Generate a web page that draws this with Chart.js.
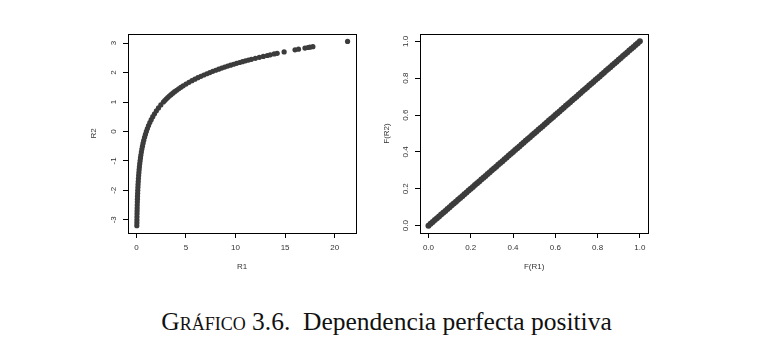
<!DOCTYPE html>
<html>
<head>
<meta charset="utf-8">
<script src="https://cdn.jsdelivr.net/npm/chart.js@4.4.1/dist/chart.umd.min.js"></script>
<style>
  body { margin: 0; background: #fff; width: 773px; height: 349px; position: relative; overflow: hidden; }
  #left { position: absolute; left: 0; top: 0; }
  #right { position: absolute; left: 380px; top: 0; }
  #caption { position: absolute; left: 0; width: 773px; top: 307px; text-align: center;
             font-family: "Liberation Serif", "DejaVu Serif", serif; font-size: 25.5px; line-height: 1.15; color: #111; white-space: pre; }
  .sc { font-variant: small-caps; }
</style>
</head>
<body>
<canvas id="left" width="380" height="290"></canvas>
<canvas id="right" width="393" height="290"></canvas>
<div id="caption"><span class="sc">Gráfico</span> 3.6.  Dependencia perfecta positiva</div>
<script>
// left panel: R1 against R2
const r1 = [0.041,0.045,0.050,0.055,0.061,0.067,0.074,0.082,0.091,0.100,0.111,0.122,0.135,0.150,0.165,0.183,
  0.202,0.223,0.247,0.273,0.301,0.333,0.368,0.407,0.449,0.497,0.549,0.607,0.670,0.741,0.819,0.905,1.000,
  1.105,1.221,1.350,1.492,1.649,1.822,2.014,2.226,2.460,2.718,
  2.858,3.004,3.158,3.320,3.490,3.669,3.857,4.055,4.263,4.482,4.711,
  5.0,5.3,5.6,5.9,6.2,6.5,6.8,7.1,7.4,7.7,8.0,8.3,8.6,8.9,9.2,9.5,9.8,10.1,10.4,10.7,11.0,11.3,11.6,
  12.0,12.4,12.8,13.2,13.5,13.9,14.2,14.9,16.0,16.35,17.0,17.3,17.5,17.8,21.3];
const r2 = [-3.2,-3.1,-3.0,-2.9,-2.8,-2.7,-2.6,-2.5,-2.4,-2.3,-2.2,-2.1,-2.0,-1.9,-1.8,-1.7,
  -1.6,-1.5,-1.4,-1.3,-1.2,-1.1,-1.0,-0.9,-0.8,-0.7,-0.6,-0.5,-0.4,-0.3,-0.2,-0.1,0.0,
  0.1,0.2,0.3,0.4,0.5,0.6,0.7,0.8,0.9,1.0,
  1.05,1.1,1.15,1.2,1.25,1.3,1.35,1.4,1.45,1.5,1.55,
  1.609,1.668,1.723,1.775,1.825,1.872,1.917,1.960,2.001,2.041,2.079,2.116,2.152,2.186,2.219,2.251,2.282,2.313,2.342,2.370,2.398,2.425,2.451,
  2.485,2.518,2.549,2.580,2.603,2.632,2.653,2.701,2.773,2.794,2.833,2.851,2.862,2.879,3.059];

// right panel: F(R1) against F(R2)
const fR1 = [0.00,0.01,0.02,0.03,0.04,0.05,0.06,0.07,0.08,0.09,0.10,0.11,0.12,0.13,0.14,0.15,0.16,0.17,0.18,0.19,
  0.20,0.21,0.22,0.23,0.24,0.25,0.26,0.27,0.28,0.29,0.30,0.31,0.32,0.33,0.34,0.35,0.36,0.37,0.38,0.39,
  0.40,0.41,0.42,0.43,0.44,0.45,0.46,0.47,0.48,0.49,0.50,0.51,0.52,0.53,0.54,0.55,0.56,0.57,0.58,0.59,
  0.60,0.61,0.62,0.63,0.64,0.65,0.66,0.67,0.68,0.69,0.70,0.71,0.72,0.73,0.74,0.75,0.76,0.77,0.78,0.79,
  0.80,0.81,0.82,0.83,0.84,0.85,0.86,0.87,0.88,0.89,0.90,0.91,0.92,0.93,0.94,0.95,0.96,0.97,0.98,0.99,1.00];
const fR2 = [0.00,0.01,0.02,0.03,0.04,0.05,0.06,0.07,0.08,0.09,0.10,0.11,0.12,0.13,0.14,0.15,0.16,0.17,0.18,0.19,
  0.20,0.21,0.22,0.23,0.24,0.25,0.26,0.27,0.28,0.29,0.30,0.31,0.32,0.33,0.34,0.35,0.36,0.37,0.38,0.39,
  0.40,0.41,0.42,0.43,0.44,0.45,0.46,0.47,0.48,0.49,0.50,0.51,0.52,0.53,0.54,0.55,0.56,0.57,0.58,0.59,
  0.60,0.61,0.62,0.63,0.64,0.65,0.66,0.67,0.68,0.69,0.70,0.71,0.72,0.73,0.74,0.75,0.76,0.77,0.78,0.79,
  0.80,0.81,0.82,0.83,0.84,0.85,0.86,0.87,0.88,0.89,0.90,0.91,0.92,0.93,0.94,0.95,0.96,0.97,0.98,0.99,1.00];

const r1Ticks = [0, 5, 10, 15, 20];
const r2Ticks = [-3, -2, -1, 0, 1, 2, 3];
const fTicks = [0, 0.2, 0.4, 0.6, 0.8, 1.0];

const tickFont = { family: '"Liberation Sans", Arial, sans-serif', size: 8 };
const inkColor = '#333';
const dotColor = '#3c3c3c';

// box around the plot and R-style rotated y tick labels
const rBox = {
  id: 'rBox',
  afterDraw(chart) {
    const { ctx, chartArea: a } = chart;
    const y = chart.scales.y;
    ctx.save();
    ctx.strokeStyle = '#000';
    ctx.lineWidth = 1;
    ctx.strokeRect(Math.round(a.left) + 0.5, Math.round(a.top) + 0.5,
                   Math.round(a.right - a.left), Math.round(a.bottom - a.top));
    ctx.fillStyle = inkColor;
    ctx.font = '8px "Liberation Sans", Arial, sans-serif';
    ctx.textAlign = 'center';
    ctx.textBaseline = 'middle';
    y.ticks.forEach(t => {
      ctx.save();
      ctx.translate(a.left - 14.5, y.getPixelForValue(t.value));
      ctx.rotate(-Math.PI / 2);
      ctx.fillText(t.label, 0, 0);
      ctx.restore();
    });
    ctx.restore();
  }
};

function makePlot(id, xs, ys, o) {
  const grid = { drawOnChartArea: false, drawTicks: true, tickLength: 5, color: '#000', lineWidth: 1 };
  return new Chart(document.getElementById(id), {
    type: 'scatter',
    data: {
      datasets: [{
        data: xs.map((x, i) => ({ x: x, y: ys[i] })),
        backgroundColor: dotColor,
        borderWidth: 0,
        pointRadius: o.radius,
        pointHoverRadius: o.radius
      }]
    },
    options: {
      responsive: false,
      animation: false,
      events: [],
      layout: { padding: { top: 34, right: o.padRight, left: 0, bottom: 0 } },
      plugins: { legend: { display: false }, tooltip: { enabled: false } },
      scales: {
        x: {
          type: 'linear', min: o.xMin, max: o.xMax,
          afterBuildTicks: s => { s.ticks = o.xTicks.map(v => ({ value: v })); },
          ticks: { font: tickFont, color: inkColor, padding: 5, maxRotation: 0, callback: o.fmt },
          grid: grid,
          border: { display: false },
          title: { display: true, text: o.xTitle, font: tickFont, color: inkColor, padding: { top: 0, bottom: 18.5 } },
          afterFit: s => { s.height = 57; }
        },
        y: {
          type: 'linear', min: o.yMin, max: o.yMax,
          afterBuildTicks: s => { s.ticks = o.yTicks.map(v => ({ value: v })); },
          ticks: { display: false, callback: o.fmt },
          grid: grid,
          border: { display: false },
          title: { display: true, text: o.yTitle, font: tickFont, color: inkColor, padding: { top: o.yTitlePad, bottom: 0 } },
          afterFit: s => { s.width = o.yWidth; }
        }
      }
    },
    plugins: [rBox]
  });
}

makePlot('left', r1, r2, {
  radius: 2.6, padRight: 24, yWidth: 128, yTitlePad: 88.5,
  xMin: -0.85, xMax: 22.15, yMin: -3.45, yMax: 3.31,
  xTicks: r1Ticks, yTicks: r2Ticks, xTitle: 'R1', yTitle: 'R2',
  fmt: v => String(v)
});

makePlot('right', fR1, fR2, {
  radius: 3, padRight: 124.7, yWidth: 40, yTitlePad: 1.9,
  xMin: -0.04, xMax: 1.04, yMin: -0.04, yMax: 1.04,
  xTicks: fTicks, yTicks: fTicks, xTitle: 'F(R1)', yTitle: 'F(R2)',
  fmt: v => Number(v).toFixed(1)
});
</script>
</body>
</html>
